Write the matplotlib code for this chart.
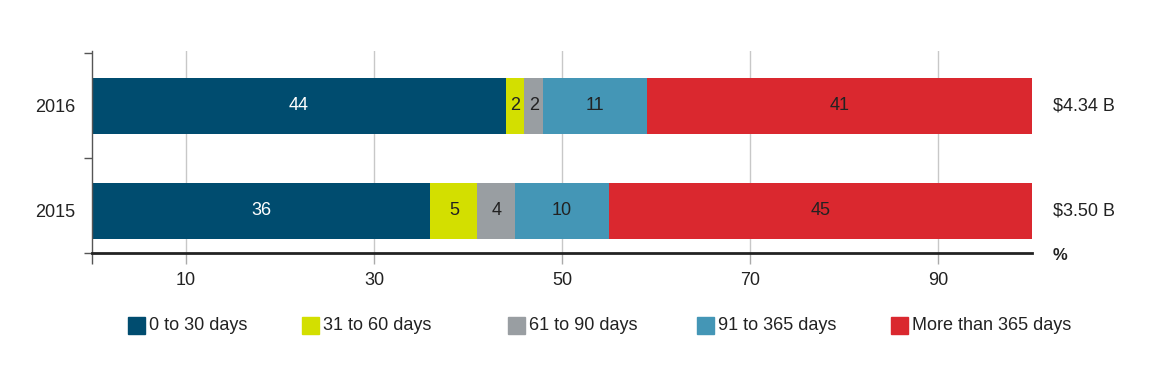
import matplotlib.pyplot as plt
from matplotlib.patches import Rectangle

plt.rcParams['font.family'] = ['Liberation Sans', 'DejaVu Sans']

# Data
years = ['2015', '2016']
categories = ['0 to 30 days', '31 to 60 days', '61 to 90 days', '91 to 365 days', 'More than 365 days']
shares = {
    '2015': [36, 5, 4, 10, 45],
    '2016': [44, 2, 2, 11, 41],
}
totals = ['$3.50 B', '$4.34 B']
xticks = [10, 30, 50, 70, 90]

colors = ['#004c6f', '#d3df00', '#999ea2', '#4496b6', '#da282f']
label_colors = ['white', '#222222', '#222222', '#222222', '#222222']

fig = plt.figure(figsize=(11.71, 3.71), dpi=100)
W, H = 1171, 371
ax = fig.add_axes([92 / W, 1 - 253 / H, 940 / W, 202 / H])

ax.set_xlim(0, 100)
ax.set_ylim(-0.4, 1.52)

# vertical gridlines
for t in xticks:
    ax.axvline(t, color='#c8c8c8', lw=1, zorder=0)

for yi, year in enumerate(years):
    left = 0
    for ci, val in enumerate(shares[year]):
        ax.barh(yi, val, left=left, height=0.53, color=colors[ci], zorder=2)
        ax.text(left + val / 2, yi, str(val), ha='center', va='center',
                color=label_colors[ci], fontsize=13, zorder=3)
        left += val
    ax.text(1.022, yi, totals[yi], transform=ax.get_yaxis_transform(),
            ha='left', va='center', fontsize=13, color='#222222')

ax.text(1.022, -0.01, '%', transform=ax.transAxes, ha='left', va='center',
        fontsize=12, fontweight='bold', color='#222222')

# axes styling
for side in ['top', 'right']:
    ax.spines[side].set_visible(False)
ax.spines['bottom'].set_color('#222222')
ax.spines['bottom'].set_linewidth(2)
ax.spines['left'].set_color('#555555')
ax.spines['left'].set_linewidth(1)

ax.set_xticks(xticks)
ax.set_xticks([0], minor=True)
ax.tick_params(axis='x', which='major', length=8, width=1, color='#aaaaaa',
               labelsize=13, labelcolor='#222222', pad=6)
ax.tick_params(axis='x', which='minor', length=8, width=1, color='#555555')

ax.set_yticks([0, 1])
ax.set_yticklabels(years)
ax.set_yticks([-0.4, 0.5, 1.5], minor=True)
ax.tick_params(axis='y', which='major', length=0, labelsize=13,
               labelcolor='#222222', pad=12)
ax.tick_params(axis='y', which='minor', length=6, width=1, color='#555555')

# legend
legend_x = [128, 302, 508, 697, 891]
for xpos, col, lab in zip(legend_x, colors, categories):
    fig.patches.append(Rectangle((xpos / W, 1 - 334 / H), 17 / W, 17 / H,
                                 transform=fig.transFigure, color=col))
    fig.text((xpos + 21) / W, 1 - 326 / H, lab, ha='left', va='center',
             fontsize=13, color='#222222')

fig.savefig('out.png', dpi=100)
